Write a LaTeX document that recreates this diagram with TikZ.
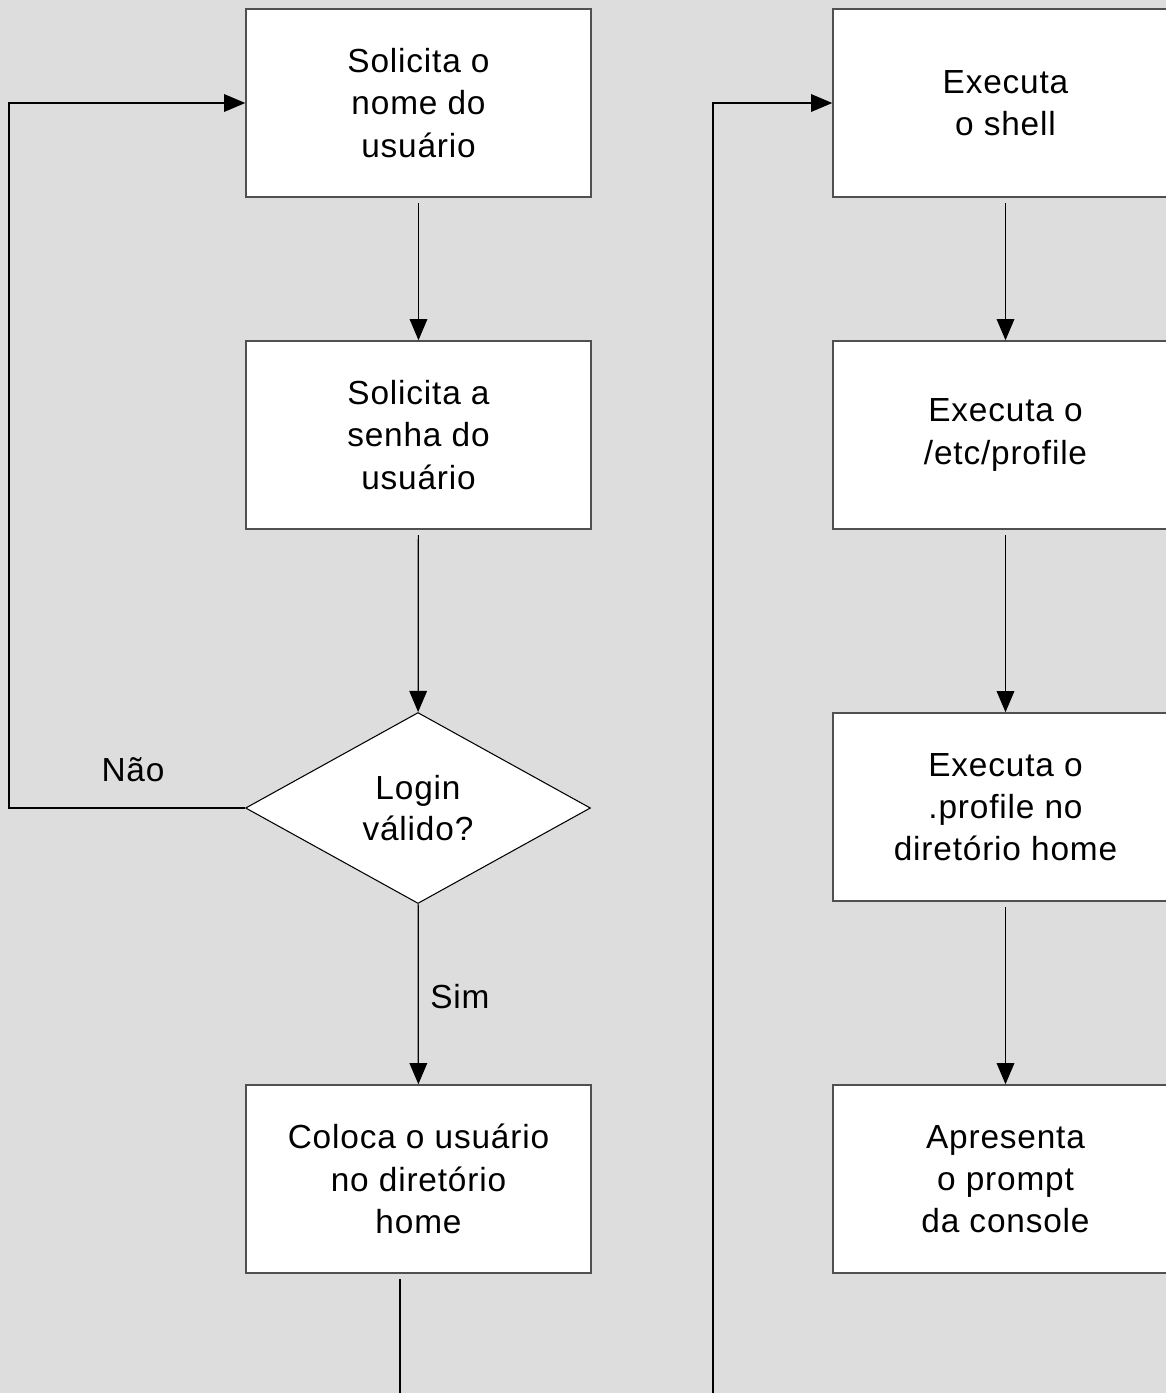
\documentclass[tikz,border=0pt]{standalone}
\usepackage{fontspec}
\setmainfont{Liberation Sans}[LetterSpace=2.5]
\usetikzlibrary{arrows.meta,shapes.geometric}
\definecolor{marble}{RGB}{221,221,221}
\definecolor{borda}{RGB}{80,80,80}
\tikzset{
	passo/.style={draw=borda,line width=0.9pt,fill=white,minimum width=6.9cm,minimum height=3.76cm,inner sep=0pt,align=center,font=\fontsize{19}{24}\selectfont},
	decisao/.style={diamond,draw,line width=0.6pt,fill=white,aspect=1.8,minimum width=6.9cm,minimum height=3.82cm,inner sep=0pt,align=center,font=\fontsize{19}{23}\selectfont},
	rotulo/.style={font=\fontsize{19}{24}\selectfont},
	fluxo/.style={-{Triangle[length=12pt,width=10pt]},line width=0.7pt},
}
\begin{document}
\begin{tikzpicture}[x=0.02cm,y=-0.02cm]
	\useasboundingbox (0,0) rectangle (1166,1393);
	\clip (0,0) rectangle (1166,1393);
	\fill[marble] (0,0) rectangle (1166,1393);
	% coluna da esquerda
	\node[passo] (nome) at (418.5,103) {Solicita o\\nome do\\usuário};
	\node[passo] (senha) at (418.5,435) {Solicita a\\senha do\\usuário};
	\node[decisao] (login) at (418,808) {Login\\válido?};
	\node[passo] (home) at (418.5,1179) {Coloca o usuário\\no diretório\\home};
		\draw[fluxo,shorten <=3pt] (nome) -- (senha);
		\draw[fluxo,shorten <=3pt] (senha) -- (login);
		\draw[fluxo] (login) -- (home);
	\coordinate (volta) at (9,808);
		\draw[fluxo] (login.west) -- (volta) |- (nome.west);
	\node[rotulo] (nao) at (133,770) {Não};
	\node[rotulo] (sim) at (460,997) {Sim};
	\coordinate (saidaA) at (400,1279);
	\coordinate (fimA) at (400,1393);
		\draw[line width=0.7pt] (saidaA) -- (fimA);
	%
	% coluna da direita
	\node[passo] (shell) at (1005.5,103) {Executa\\o shell};
	\node[passo] (profile) at (1005.5,435) {Executa o\\/etc/profile};
	\node[passo] (local) at (1005.5,807) {Executa o\\.profile no\\diretório home};
	\node[passo] (prompt) at (1005.5,1179) {Apresenta\\o prompt\\da console};
		\draw[fluxo,shorten <=3pt] (shell) -- (profile);
		\draw[fluxo,shorten <=3pt] (profile) -- (local);
		\draw[fluxo,shorten <=3pt] (local) -- (prompt);
	\coordinate (fimB) at (713,1393);
		\draw[fluxo] (fimB) |- (shell.west);
\end{tikzpicture}
\end{document}
